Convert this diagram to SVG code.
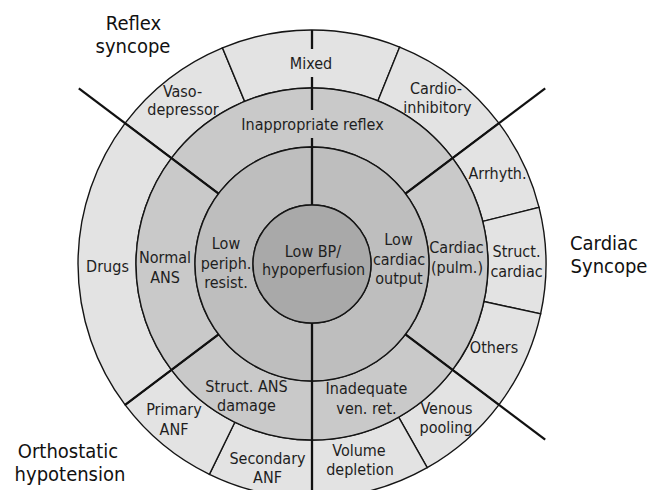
<svg xmlns="http://www.w3.org/2000/svg" width="649" height="490" viewBox="0 0 649 490">
<style>
  .outer { fill: #e3e3e3; stroke: #151515; stroke-width: 1.4; }
  .mid { fill: #c9c9c9; stroke: #151515; stroke-width: 1.4; }
  .inner { fill: #bebebe; stroke: #151515; stroke-width: 1.4; }
  .core { fill: #a9a9a9; stroke: #151515; stroke-width: 1.4; }
  text { font-family: "DejaVu Sans Condensed", "DejaVu Sans", sans-serif; font-size: 16px; fill: #1e1e1e; text-anchor: middle; }
  .title { font-size: 20px; fill: #111111; }
  .thick { stroke: #111111; stroke-width: 2.3; fill: none; }
</style>
<rect width="649" height="490" fill="#ffffff"/>

<!-- Outer ring -->
<g id="vasodepressor">
  <path class="outer" d="M125.13,123.18 A234,234 0 0 1 222.45,47.81 L244.64,101.39 A176,176 0 0 0 171.45,158.08 Z"/>
  <text x="182.5" y="97">Vaso-</text><text x="183" y="115">depressor</text>
</g>
<g id="mixed">
  <path class="outer" d="M222.45,47.81 A234,234 0 0 1 399.66,47.04 L377.93,100.81 A176,176 0 0 0 244.64,101.39 Z"/>
  <text x="311" y="69">Mixed</text>
</g>
<g id="cardioinhibitory">
  <path class="outer" d="M399.66,47.04 A234,234 0 0 1 498.87,123.18 L452.55,158.08 A176,176 0 0 0 377.93,100.81 Z"/>
  <text x="436" y="94">Cardio-</text><text x="437.5" y="113">inhibitory</text>
</g>
<g id="arrhythmia">
  <path class="outer" d="M498.87,123.18 A234,234 0 0 1 539.05,207.40 L482.77,221.43 A176,176 0 0 0 452.55,158.08 Z"/>
  <text x="497.5" y="179">Arrhyth.</text>
</g>
<g id="struct-cardiac">
  <path class="outer" d="M539.05,207.40 A234,234 0 0 1 540.62,313.84 L483.95,301.49 A176,176 0 0 0 482.77,221.43 Z"/>
  <text x="516.5" y="257">Struct.</text><text x="516.5" y="277">cardiac</text>
</g>
<g id="others">
  <path class="outer" d="M540.62,313.84 A234,234 0 0 1 498.87,404.82 L452.55,369.92 A176,176 0 0 0 483.95,301.49 Z"/>
  <text x="494" y="353">Others</text>
</g>
<g id="venous-pooling">
  <path class="outer" d="M498.87,404.82 A234,234 0 0 1 427.22,467.67 L398.66,417.19 A176,176 0 0 0 452.55,369.92 Z"/>
  <text x="446.5" y="414">Venous</text><text x="446" y="433">pooling</text>
</g>
<g id="volume-depletion">
  <path class="outer" d="M427.22,467.67 A234,234 0 0 1 312,498 L312,440 A176,176 0 0 0 398.66,417.19 Z"/>
  <text x="359" y="456">Volume</text><text x="360" y="475">depletion</text>
</g>
<g id="secondary-anf">
  <path class="outer" d="M312,498 A234,234 0 0 1 209.41,474.32 L234.84,422.19 A176,176 0 0 0 312,440 Z"/>
  <text x="267.5" y="464">Secondary</text><text x="267.5" y="483">ANF</text>
</g>
<g id="primary-anf">
  <path class="outer" d="M209.41,474.32 A234,234 0 0 1 125.13,404.82 L171.45,369.92 A176,176 0 0 0 234.84,422.19 Z"/>
  <text x="174" y="415">Primary</text><text x="174" y="435">ANF</text>
</g>
<g id="drugs">
  <path class="outer" d="M125.13,404.82 A234,234 0 0 1 125.13,123.18 L171.45,158.08 A176,176 0 0 0 171.45,369.92 Z"/>
  <text x="107.5" y="272">Drugs</text>
</g>

<!-- Middle ring -->
<g id="inappropriate-reflex">
  <path class="mid" d="M171.45,158.08 A176,176 0 0 1 452.55,158.08 L405.44,193.59 A117,117 0 0 0 218.56,193.59 Z"/>
  <text x="312.5" y="130">Inappropriate reflex</text>
</g>
<g id="cardiac-pulm">
  <path class="mid" d="M452.55,158.08 A176,176 0 0 1 452.55,369.92 L405.44,334.41 A117,117 0 0 0 405.44,193.59 Z"/>
  <text x="456.5" y="253">Cardiac</text><text x="457" y="272.5">(pulm.)</text>
</g>
<g id="inadequate-ven-ret">
  <path class="mid" d="M452.55,369.92 A176,176 0 0 1 312,440 L312,381 A117,117 0 0 0 405.44,334.41 Z"/>
  <text x="366.5" y="394">Inadequate</text><text x="366.5" y="414">ven. ret.</text>
</g>
<g id="struct-ans-damage">
  <path class="mid" d="M312,440 A176,176 0 0 1 171.45,369.92 L218.56,334.41 A117,117 0 0 0 312,381 Z"/>
  <text x="246.5" y="392">Struct. ANS</text><text x="246.5" y="411">damage</text>
</g>
<g id="normal-ans">
  <path class="mid" d="M171.45,369.92 A176,176 0 0 1 171.45,158.08 L218.56,193.59 A117,117 0 0 0 218.56,334.41 Z"/>
  <text x="165" y="263">Normal</text><text x="165" y="283">ANS</text>
</g>

<!-- Inner ring -->
<g id="low-cardiac-output">
  <path class="inner" d="M312,147 A117,117 0 0 1 312,381 L312,323 A59,59 0 0 0 312,205 Z"/>
  <text x="398.5" y="245">Low</text><text x="399" y="264.5">cardiac</text><text x="399" y="284">output</text>
</g>
<g id="low-periph-resist">
  <path class="inner" d="M312,381 A117,117 0 0 1 312,147 L312,205 A59,59 0 0 0 312,323 Z"/>
  <text x="226" y="249">Low</text><text x="226" y="268.5">periph.</text><text x="226" y="288">resist.</text>
</g>

<!-- Core -->
<g id="low-bp">
  <circle class="core" cx="312" cy="264" r="59"/>
  <text x="313" y="257">Low BP/</text><text x="313.5" y="275">hypoperfusion</text>
</g>

<!-- Connectors / dividing lines -->
<g id="connectors">
  <line class="thick" x1="218.56" y1="193.59" x2="78.8" y2="88.3"/>
  <line class="thick" x1="405.44" y1="193.59" x2="545.2" y2="88.3"/>
  <line class="thick" x1="405.44" y1="334.41" x2="545.2" y2="439.7"/>
  <line class="thick" x1="218.56" y1="334.41" x2="125.13" y2="404.82"/>
  <line class="thick" x1="312" y1="323" x2="312" y2="492"/>
  <line class="thick" x1="312" y1="138" x2="312" y2="205"/>
  <line class="thick" x1="312" y1="77" x2="312" y2="110"/>
  <line class="thick" x1="312" y1="30" x2="312" y2="49"/>
</g>

<!-- Group titles -->
<g id="titles">
  <text class="title" x="133.5" y="30">Reflex</text>
  <text class="title" x="133" y="53">syncope</text>
  <text class="title" x="604" y="250">Cardiac</text>
  <text class="title" x="609" y="273">Syncope</text>
  <text class="title" x="68" y="458">Orthostatic</text>
  <text class="title" x="70" y="481">hypotension</text>
</g>
</svg>
